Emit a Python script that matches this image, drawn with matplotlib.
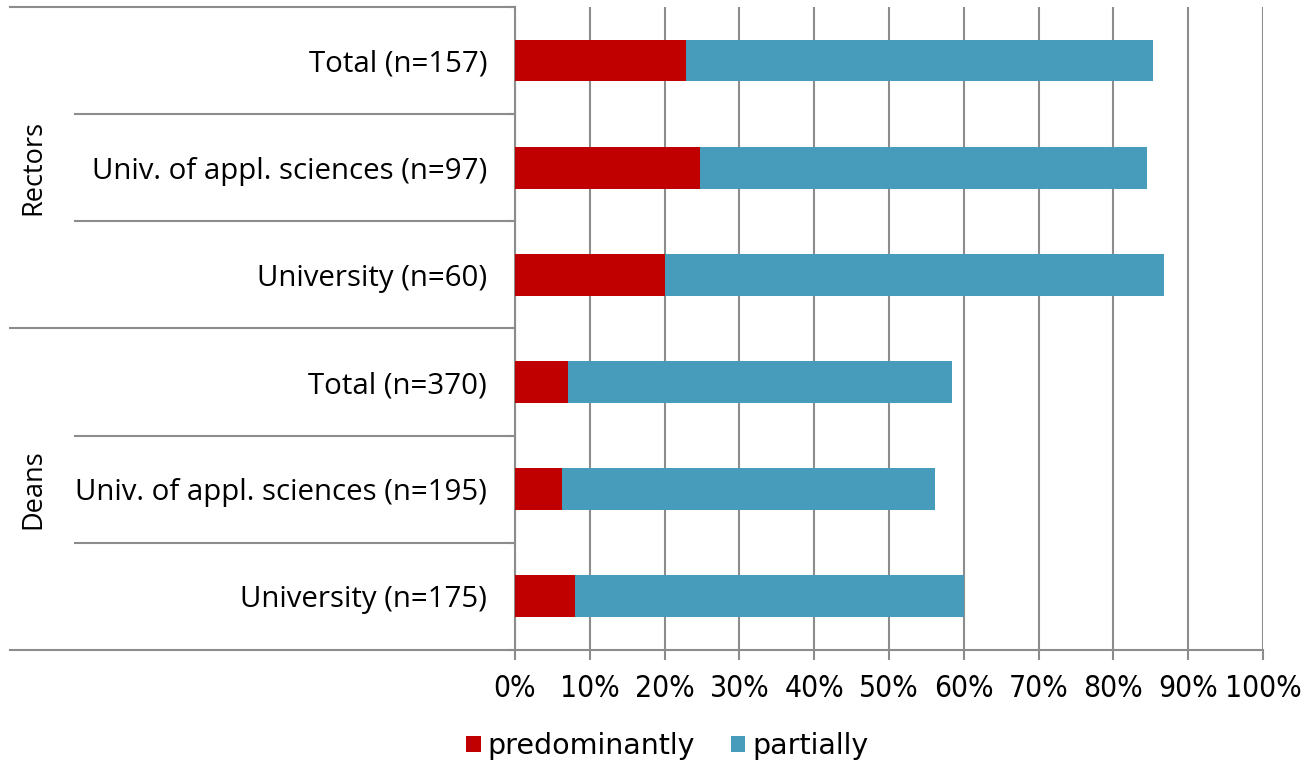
import matplotlib.pyplot as plt
import matplotlib.transforms as mtransforms
from matplotlib.lines import Line2D
import numpy as np

# Datos
labels = ['Total (n=157)', 'Univ. of appl. sciences (n=97)', 'University (n=60)',
          'Total (n=370)', 'Univ. of appl. sciences (n=195)', 'University (n=175)']
groups = ['Rectors', 'Deans']
group_sizes = [3, 3]
predominantly = [22.9, 24.7, 20.0, 7.1, 6.3, 8.0]
partially = [62.4, 59.8, 66.7, 51.3, 49.9, 52.0]
x_ticks = [0, 10, 20, 30, 40, 50, 60, 70, 80, 90, 100]

red = '#C00000'
blue = '#479CBC'
grey = '#8C8C8C'

plt.rcParams['font.family'] = ['Open Sans', 'DejaVu Sans']

fig = plt.figure(figsize=(13.06, 7.61), dpi=100)
ax = fig.add_axes([0.3943, 0.1459, 0.9671 - 0.3943, 0.9908 - 0.1459])

y = np.arange(len(labels))
ax.barh(y, predominantly, height=0.39, color=red, label='predominantly', zorder=3)
ax.barh(y, partially, left=predominantly, height=0.39, color=blue, label='partially', zorder=3)

ax.set_xlim(0, 100)
ax.set_ylim(len(labels) - 0.5, -0.5)
ax.set_xticks(x_ticks)
ax.set_xticklabels([f'{t}%' for t in x_ticks], fontsize=21.5, family='DejaVu Sans',
                   fontstretch='condensed')
ax.set_yticks(y)
ax.set_yticklabels(labels, fontsize=21.2)
ax.set_yticks(np.arange(len(labels) + 1) - 0.5, minor=True)
ax.tick_params(axis='y', which='major', length=0, pad=20)
ax.tick_params(axis='y', which='minor', length=5, width=1.5, color=grey)
ax.tick_params(axis='x', length=7, width=1.5, color=grey, pad=10)

ax.grid(axis='x', color=grey, linewidth=1.5, zorder=0)
for s in ['top', 'right']:
    ax.spines[s].set_visible(False)
for s in ['left', 'bottom']:
    ax.spines[s].set_color(grey)
    ax.spines[s].set_linewidth(1.5)

# Lineas del eje de categorias (multinivel)
trans = mtransforms.blended_transform_factory(fig.transFigure, ax.transData)
x_axis = 0.3943
bounds = np.arange(len(labels) + 1) - 0.5
group_edges = np.concatenate([[0], np.cumsum(group_sizes)]) - 0.5
for b in bounds:
    x_start = 10 / 1306 if b in group_edges else 75 / 1306
    fig.add_artist(Line2D([x_start, x_axis], [b, b], transform=trans,
                          color=grey, linewidth=1.5))

# Etiquetas de grupo
start = 0
for g, n in zip(groups, group_sizes):
    mid = start + (n - 1) / 2
    fig.text(33 / 1306, mid, g, transform=trans, rotation=90,
             ha='center', va='center', fontsize=19.5)
    start += n

fig.legend(loc='center', bbox_to_anchor=(0.511, 0.02), ncol=2, frameon=False,
           handlelength=0.5, handleheight=0.5, handletextpad=0.25,
           columnspacing=1.25, prop={'family': 'DejaVu Sans', 'size': 20.5})

plt.savefig('out.png', dpi=100)
